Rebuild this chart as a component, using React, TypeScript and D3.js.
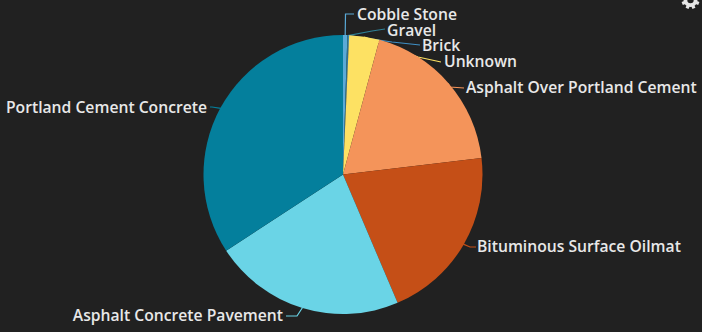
import React from "react";
import * as d3 from "d3";

const categories = [
  "Cobble Stone",
  "Gravel",
  "Brick",
  "Unknown",
  "Asphalt Over Portland Cement",
  "Bituminous Surface Oilmat",
  "Asphalt Concrete Pavement",
  "Portland Cement Concrete",
];
const shares = [0.5, 0.1, 0.1, 3.5, 18.9, 20.5, 22.2, 34.2];
const sliceColors = ["#5aaad8", "#2f7f95", "#3f8fc4", "#fde163", "#f4945a", "#c54f17", "#6ad4e6", "#047f9c"];

// Pie geometry
const width = 702;
const height = 332;
const cx = 343;
const cy = 174.5;
const radius = 139.5;

// Text anchor (x, baseline y, side) and leader elbow for each label
const labelX = [357, 387, 422, 444, 466, 477, 283, 207];
const labelY = [20, 36, 51, 67, 93, 252, 321, 113];
const labelSide = ["start", "start", "start", "start", "start", "start", "end", "end"];
const elbowX = [345.5, 372, 392, 418, 450, 470, 297, 212];
const elbowY = [14, 31, 42, 57, 87, 247, 316, 107];
const leaderEndX = [354, 385, 420, 441, 464, 476, 286, 210];
const leaderEndY = [14, 29, 45, 62, 88, 247, 316, 107];

// Settings glyph: a ring with eight teeth, centred on the top edge
const gearRing = d3.arc()({ innerRadius: 3.2, outerRadius: 7, startAngle: 0, endAngle: 2 * Math.PI }) as string;

export default function App() {
  const pie = d3
    .pie<number>()
    .sort(null)
    .value((d) => d);
  const arcs = pie(shares);
  const arc = d3
    .arc<d3.PieArcDatum<number>>()
    .innerRadius(0)
    .outerRadius(radius);
  const rim = d3
    .arc<d3.PieArcDatum<number>>()
    .innerRadius(radius - 0.5)
    .outerRadius(radius - 0.5);
  const leader = d3.line();

  return (
    <svg
      width={width}
      height={height}
      style={{ position: "absolute", left: 0, top: 0, background: "#212121" }}
      fontFamily="'Open Sans', 'Noto Sans', sans-serif"
    >
      {arcs.map((a, i) => {
        const [mx, my] = rim.centroid(a);
        return (
          <path
            key={categories[i]}
            d={
              leader([
                [cx + mx, cy + my],
                [elbowX[i], elbowY[i]],
                [leaderEndX[i], leaderEndY[i]],
              ]) as string
            }
            fill="none"
            stroke={sliceColors[i]}
            strokeWidth={1.2}
          />
        );
      })}
      <g transform={`translate(${cx},${cy})`}>
        {arcs.map((a, i) => (
          <path key={categories[i]} d={arc(a) as string} fill={sliceColors[i]} />
        ))}
      </g>
      {categories.map((c, i) => (
        <text
          key={c}
          x={labelX[i]}
          y={labelY[i]}
          textAnchor={labelSide[i] as "start" | "end"}
          fontSize={15.7}
          fontWeight={600}
          fill="#e8e8e8"
        >
          {c}
        </text>
      ))}
      <g transform="translate(690.5,0)" fill="#e6e6e6">
        <path d={gearRing} />
        {d3.range(8).map((k) => (
          <rect key={k} x={-1.6} y={-9} width={3.2} height={4} transform={`rotate(${k * 45 + 22.5})`} />
        ))}
      </g>
    </svg>
  );
}
